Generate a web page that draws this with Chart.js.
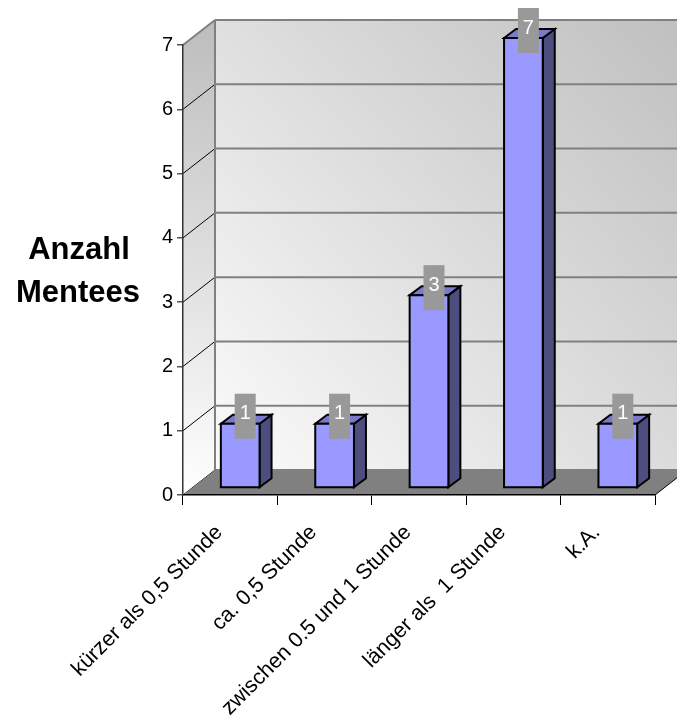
<!DOCTYPE html>
<html>
<head>
<meta charset="utf-8">
<script src="https://cdn.jsdelivr.net/npm/chart.js@4"></script>
<style>
  body { margin: 0; background: #fff; }
  canvas { display: block; }
</style>
</head>
<body>
<canvas id="chart" width="677" height="720"></canvas>
<script>
const categories = ['kürzer als 0,5 Stunde', 'ca. 0,5 Stunde', 'zwischen 0.5 und 1 Stunde', 'länger als  1 Stunde', 'k.A.'];
const menteeCounts = [1, 1, 3, 7, 1];
const yMin = 0;
const yMax = 7;
const axisTitle = ['Anzahl', 'Mentees'];

const FONT = "'Liberation Sans', Arial, sans-serif";

// 3d look: offsets of the back wall and the bars
const wallDepth = { dx: 32, dy: -25 };
const barShift = { dx: 10, dy: -7 };
const barDepth = { dx: 12, dy: -9 };

function poly(ctx, pts) {
  ctx.beginPath();
  ctx.moveTo(pts[0][0], pts[0][1]);
  for (let i = 1; i < pts.length; i++) ctx.lineTo(pts[i][0], pts[i][1]);
  ctx.closePath();
}

const pseudo3d = {
  id: 'pseudo3d',
  beforeDraw(chart) {
    const ctx = chart.ctx;
    const a = chart.chartArea;
    const ys = chart.scales.y;
    const L = a.left, R = a.right, T = a.top, B = a.bottom;
    const dx = wallDepth.dx, dy = wallDepth.dy;
    const farR = chart.width + 40;
    ctx.save();

    // back wall
    let g = ctx.createLinearGradient(L + dx, B + dy, farR, T + dy);
    g.addColorStop(0, '#fbfbfb');
    g.addColorStop(1, '#bdbdbd');
    ctx.fillStyle = g;
    ctx.fillRect(L + dx, T + dy, farR - L - dx, B - T);

    // left wall
    g = ctx.createLinearGradient(L, B, L + dx + 30, T + dy);
    g.addColorStop(0, '#ffffff');
    g.addColorStop(1, '#bcbcbc');
    ctx.fillStyle = g;
    poly(ctx, [[L, T], [L + dx, T + dy], [L + dx, B + dy], [L, B]]);
    ctx.fill();

    // grid lines on the back wall and the diagonals on the left wall
    for (let v = yMin; v <= yMax; v++) {
      const py = ys.getPixelForValue(v);
      ctx.strokeStyle = '#808080';
      ctx.lineWidth = 2;
      ctx.beginPath();
      ctx.moveTo(L + dx, py + dy);
      ctx.lineTo(farR, py + dy);
      ctx.stroke();
      ctx.strokeStyle = v === yMax ? '#808080' : '#000';
      ctx.lineWidth = v === yMax ? 2 : 1;
      ctx.beginPath();
      ctx.moveTo(L, py);
      ctx.lineTo(L + dx, py + dy);
      ctx.stroke();
    }
    ctx.strokeStyle = '#808080';
    ctx.lineWidth = 2;
    ctx.beginPath();
    ctx.moveTo(L + dx, T + dy);
    ctx.lineTo(L + dx, B + dy);
    ctx.stroke();

    // floor
    ctx.fillStyle = '#808080';
    poly(ctx, [[L, B], [R, B], [R + dx, B + dy], [L + dx, B + dy]]);
    ctx.fill();
    ctx.strokeStyle = '#000';
    ctx.lineWidth = 1;
    ctx.beginPath();
    ctx.moveTo(R, B);
    ctx.lineTo(R + dx, B + dy);
    ctx.stroke();

    // axis title
    ctx.fillStyle = '#000';
    ctx.font = 'bold 31px ' + FONT;
    ctx.textAlign = 'center';
    ctx.textBaseline = 'alphabetic';
    ctx.fillText(axisTitle[0], 79, 259);
    ctx.fillText(axisTitle[1], 78, 302);
    ctx.restore();
  },
  afterDatasetsDraw(chart) {
    const ctx = chart.ctx;
    const meta = chart.getDatasetMeta(0);
    ctx.save();
    ctx.lineJoin = 'miter';
    const tops = [];
    meta.data.forEach((bar) => {
      const p = bar.getProps(['x', 'y', 'base', 'width'], true);
      const x0 = p.x - p.width / 2 + barShift.dx;
      const x1 = p.x + p.width / 2 + barShift.dx;
      const top = p.y + barShift.dy;
      const bot = p.base + barShift.dy;
      const ddx = barDepth.dx, ddy = barDepth.dy;
      ctx.lineWidth = 2;
      ctx.strokeStyle = '#000';
      // side
      ctx.fillStyle = '#4d4d80';
      poly(ctx, [[x1, bot], [x1 + ddx, bot + ddy], [x1 + ddx, top + ddy], [x1, top]]);
      ctx.fill(); ctx.stroke();
      // top
      ctx.fillStyle = '#7a7acc';
      poly(ctx, [[x0, top], [x0 + ddx, top + ddy], [x1 + ddx, top + ddy], [x1, top]]);
      ctx.fill(); ctx.stroke();
      // front
      ctx.fillStyle = '#9999ff';
      poly(ctx, [[x0, top], [x1, top], [x1, bot], [x0, bot]]);
      ctx.fill(); ctx.stroke();
      tops.push({ cx: (x0 + x1) / 2 + 5, top });
    });
    // value labels
    ctx.font = '20px ' + FONT;
    ctx.textAlign = 'center';
    ctx.textBaseline = 'middle';
    tops.forEach((t, i) => {
      ctx.fillStyle = '#999999';
      ctx.fillRect(t.cx - 10.5, t.top - 30, 21, 45);
      ctx.fillStyle = '#fff';
      ctx.fillText(String(menteeCounts[i]), t.cx, t.top - 10);
    });
    ctx.restore();
  }
};

new Chart(document.getElementById('chart'), {
  type: 'bar',
  data: {
    labels: categories,
    datasets: [{
      data: menteeCounts,
      backgroundColor: 'rgba(0,0,0,0)',
      borderWidth: 0,
      categoryPercentage: 1,
      barPercentage: 0.41
    }]
  },
  options: {
    responsive: false,
    animation: false,
    layout: { padding: { left: 0, right: 22, top: 45, bottom: 0 } },
    plugins: {
      legend: { display: false },
      tooltip: { enabled: false }
    },
    scales: {
      x: {
        afterFit: (s) => { s.height = 225; },
        grid: {
          offset: true,
          drawOnChartArea: false,
          drawTicks: true,
          tickLength: 10,
          color: '#000',
          lineWidth: 1
        },
        border: { display: true, color: '#000', width: 1.5 },
        ticks: {
          autoSkip: false,
          maxRotation: 45,
          minRotation: 45,
          padding: 15,
          labelOffset: -11,
          color: '#000',
          font: { family: FONT, size: 21.5 }
        }
      },
      y: {
        min: yMin,
        max: yMax,
        afterFit: (s) => { s.width = 183; },
        grid: {
          drawOnChartArea: false,
          drawTicks: true,
          tickLength: 6,
          color: '#555',
          lineWidth: 1.5
        },
        border: { display: true, color: '#333', width: 1.5 },
        ticks: {
          stepSize: 1,
          padding: 4,
          color: '#000',
          font: { family: FONT, size: 20 }
        }
      }
    }
  },
  plugins: [pseudo3d]
});
</script>
</body>
</html>
